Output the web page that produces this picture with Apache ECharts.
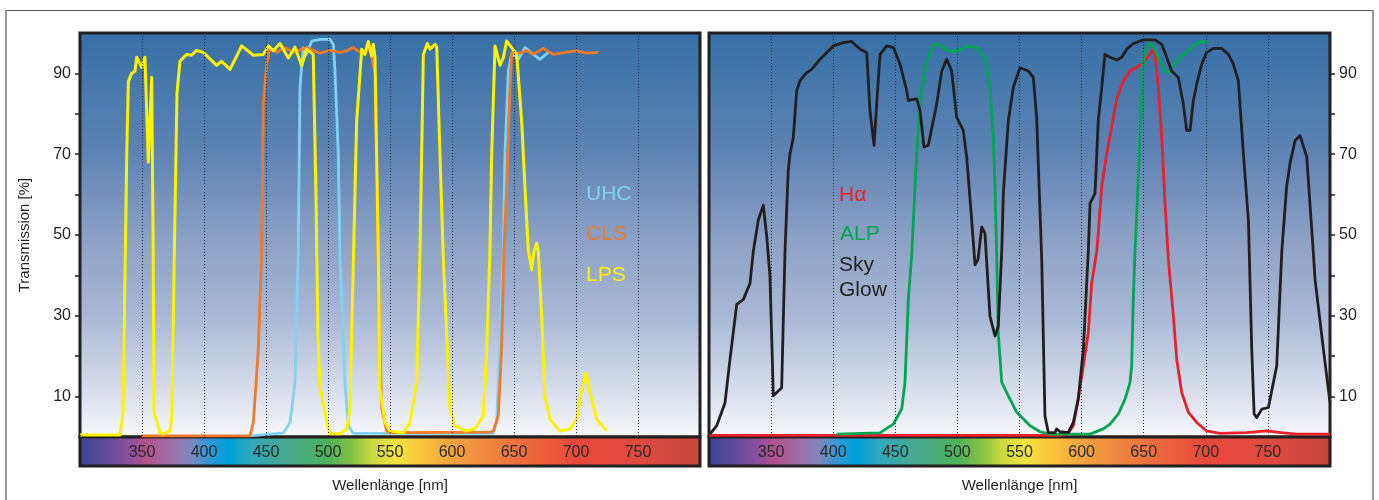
<!DOCTYPE html>
<html>
<head>
<meta charset="utf-8">
<script src="https://cdn.jsdelivr.net/npm/echarts@6/dist/echarts.min.js"></script>
<style>
html,body{margin:0;padding:0;background:#fff;}
#c{width:1379px;height:500px;}
</style>
</head>
<body>
<div id="c"></div>
<script>
// ---------- data ----------
const xTickLabels = [350, 400, 450, 500, 550, 600, 650, 700, 750];
const yTickLabels = [10, 30, 50, 70, 90];
const yTicks = [10, 20, 30, 40, 50, 60, 70, 80, 90];

// left panel: [wavelength nm, transmission %]
const UHC = [[437.1,0.3],[464,1.0],[469.4,3.6],[473.4,13.5],[476,46],[477.4,86.5],[480,96.4],[482.3,94.5],[486.9,98],[493.5,98.4],[501.6,98.4],[504.3,97.2],[505.6,90.6],[508.3,70],[509.7,44],[513.7,13.5],[516.4,2.8],[520.4,0.9],[633.3,0.9],[636,3.6],[641.4,46],[642.7,70],[645.4,90.6],[648.1,95],[653.5,93.5],[658.9,96.4],[665.6,94.7],[671,93.5],[677.7,95.2]];

const CLS = [[349.8,0.3],[437.1,0.3],[439.8,3.6],[443.8,21.7],[446.5,46],[447.8,82.4],[450.6,92.3],[453.2,96.4],[458.6,95.2],[465.3,96.4],[472,95.2],[482.8,96.4],[493.5,95],[501.6,95.7],[509.7,95.2],[515.1,95.6],[520.4,96.4],[525.8,95.2],[533.9,96],[537.9,90],[540.6,40],[543.3,7],[547.3,1.5],[550,1.1],[630.6,1.2],[633.3,1.5],[637.3,5.2],[640,21.7],[641.9,46.3],[644.1,62],[646.8,86.5],[648.1,95.2],[654.8,95],[660.2,95.7],[665.6,94.7],[673.6,96.2],[681.7,94.7],[695.2,95.4],[700.6,95.6],[708.6,95],[718,95.2]];

const LPS = [[300,0.5],[332.3,0.5],[334.7,6],[336.3,40],[337.7,70],[339,88],[341.6,90],[344.4,90.6],[345.7,94],[349.7,91.5],[352.4,94],[355.1,68],[357.8,89],[358.9,50],[359.7,6],[364.5,1.2],[366.9,0.7],[372.6,1.5],[374,5],[375.8,40],[378.2,85],[380.6,93],[386,94.7],[390,94.5],[394,95.7],[399.4,95.2],[410.2,92],[414.2,93],[421,91],[430.4,96.8],[439.8,94.5],[447.8,94.7],[451.9,96.8],[455.9,95.6],[461.3,97.4],[468,93.8],[473.4,96.5],[478.8,91.9],[482.8,96],[488.1,94.7],[490.3,60],[491.9,25],[493.5,12.6],[500.2,2],[501.6,0.8],[509.7,0.8],[515.1,2],[517.7,7],[520.2,40],[523.1,78],[527.2,96],[529.8,94.7],[532.5,97.9],[535.2,94.3],[536.5,97.2],[537.9,94],[540.6,44],[541.9,11.8],[546,3.6],[550,1.5],[560.7,1],[566.1,3.6],[571.5,13.5],[574.2,46],[576.9,94.7],[580.1,97.4],[582.3,96],[586.3,97.2],[587.7,96.5],[590.3,70],[593,44],[598.4,7],[602.4,2.8],[610.5,1.5],[618.5,2],[625.2,5.2],[628,21.7],[630.6,46],[632,70],[634.7,96.8],[638.7,92],[641.4,93.9],[644.1,98],[648.1,96.4],[652.2,94.7],[656.2,78],[660.2,53.7],[661.5,46.3],[664.3,41.4],[666.1,46],[668.3,48],[669.6,46],[672.3,30],[675,10],[679,4.4],[687.1,1.5],[695.2,2],[700.6,4.4],[704.6,11.8],[708.1,15.9],[711.3,11],[716.7,4.4],[724.8,1.5]];

// right panel
const HALPHA = [[300,0.4],[582.6,0.4],[589,0.8],[593.3,2.8],[597.3,9.4],[601.4,17.6],[605.4,25.8],[608.1,38],[612.2,46],[613.4,50.4],[616.2,62],[620.2,70],[624.2,76.7],[628.3,83.7],[633.6,88.2],[639,90.6],[644.4,91.5],[649.7,92.7],[653.8,94.3],[657.3,95.7],[659.1,94.7],[661.8,86.5],[664.5,74.2],[667.2,57.8],[669.9,43.8],[673.9,29.9],[676.6,19.2],[680.6,11],[686,6.1],[692.7,3.6],[700.7,1.5],[711.4,0.9],[732.9,1.1],[749,1.5],[762.4,1],[773.2,0.7],[800,0.7]];

const ALP = [[402.8,0.7],[437.7,1],[448.4,3.2],[455.2,7],[457.8,13.5],[460.5,34],[463.2,45],[467.2,70],[469.9,82.4],[471.3,86.5],[475.3,93.1],[480.6,97],[484.6,97.2],[492.7,95.6],[500.7,95.6],[507.5,96.8],[515.5,96.4],[522.2,93.9],[526.2,86.5],[528.9,74.2],[530.3,62],[531.6,45.5],[532.9,25.8],[535.7,13.5],[539.7,11],[547.8,6.1],[558.5,2.8],[566.5,1.3],[574.6,0.7],[606.8,0.7],[617.5,2],[622.9,3.2],[629.6,5.7],[635,9.4],[639,13.5],[640.3,17.6],[641.6,34],[643,46],[644.4,55],[647,74.2],[649.7,93.1],[652.5,96.4],[655.1,97.6],[657.8,96.8],[661.8,93.9],[665.9,91],[669.9,90.2],[673.9,91.9],[679.3,93.9],[684.6,95.2],[690,96.8],[695.4,97.9],[702.1,97.6]];

const SKYGLOW = [[300.8,0.7],[306.2,2.8],[312.9,8.5],[316.9,19.2],[322.3,32.8],[327.6,34],[333,38],[335.7,46],[339.7,53.7],[343.7,57.4],[346.5,49.6],[349.1,39.7],[351.8,10.2],[353.1,9.8],[358.5,12.2],[361.2,46],[363.8,66],[365.2,70],[367.9,74.2],[370.6,85.7],[373.3,88.2],[378.7,90.2],[382.7,91],[389.4,93.5],[400.1,96.8],[408.1,97.6],[414.9,97.9],[421.6,96],[427,95.2],[429.6,80.8],[432.9,72.2],[435,82.4],[437.7,94.7],[443.1,96.8],[448.4,96.4],[453.8,92.3],[459.2,85.7],[460.5,83.3],[467.2,83.7],[469.9,80.8],[473.1,71.8],[476.6,72.2],[483.3,82.4],[487.4,90.6],[491.4,93.5],[495.4,90.6],[499.4,79.2],[504.7,75.9],[507.5,69.3],[511.5,53.7],[514.2,42.6],[516.6,44],[519.6,52],[522.2,50.4],[526.2,29.9],[530.3,25],[532.9,27.4],[535.7,46],[537,60.3],[541,78.3],[545,86.5],[550.4,91.4],[557.1,90.6],[561.1,89],[563.8,79.2],[567.9,43.8],[570.5,5.2],[573.2,1.1],[578.6,1.1],[579.9,2],[582.6,1.3],[589.3,1.1],[593.3,3.6],[597.3,9.4],[601.4,21.7],[604.1,38],[605.4,46],[606.8,57.8],[610.8,60.3],[613.4,78.3],[616.2,86.5],[618.8,94.7],[622.9,94],[628.3,93.3],[632.3,94],[636.3,96],[641.6,97.4],[649.7,98.3],[659.1,98.3],[664.5,97.2],[668.5,94],[672.5,90.6],[677.9,89],[681.9,82.4],[684.6,75.9],[687.3,75.9],[690,83.3],[692.7,87.4],[696.7,92.3],[700.7,95.2],[706.1,96.2],[712.8,96.2],[718.2,94.7],[722.2,92.3],[726.2,88.2],[730.3,70],[734.3,53.7],[737,21.7],[738.9,5.7],[741,4.8],[745.1,6.9],[750.4,7.3],[757.1,17.6],[761.2,46],[765.1,62],[767.8,67.7],[771.9,73.4],[775.9,74.6],[781.3,69.3],[786.6,45.5],[788,38.9],[794.7,21.7],[800,8.5]];

// ---------- styling ----------
const FONT = '"Liberation Sans", Arial, Helvetica, sans-serif';
const INK = '#231f20';
const COL = {UHC:'#80d2f2', CLS:'#f07a28', LPS:'#fff200', HA:'#e8202a', ALP:'#00a651', SKY:'#231f20'};

const bg = () => new echarts.graphic.LinearGradient(0, 0, 0, 1, [
  {offset:0, color:'#3570a6'},
  {offset:0.3, color:'#5f83b4'},
  {offset:0.5, color:'#8aa0c4'},
  {offset:0.7, color:'#a9b8d5'},
  {offset:0.9, color:'#dce1ed'},
  {offset:1, color:'#f8f9fc'}
]);
const spec = () => new echarts.graphic.LinearGradient(0, 0, 1, 0, [
  {offset:0.00, color:'#3b4296'},
  {offset:0.04, color:'#5b4c9a'},
  {offset:0.08, color:'#8a4f9c'},
  {offset:0.11, color:'#b2538f'},
  {offset:0.15, color:'#9a72a8'},
  {offset:0.18, color:'#7f86bd'},
  {offset:0.21, color:'#2f98d4'},
  {offset:0.24, color:'#00a0da'},
  {offset:0.28, color:'#32a9b8'},
  {offset:0.34, color:'#47a98a'},
  {offset:0.40, color:'#4db35a'},
  {offset:0.44, color:'#85c243'},
  {offset:0.47, color:'#c7d940'},
  {offset:0.51, color:'#f4e440'},
  {offset:0.55, color:'#f8c63c'},
  {offset:0.60, color:'#f2a33e'},
  {offset:0.66, color:'#ef8640'},
  {offset:0.72, color:'#ec6a3d'},
  {offset:0.80, color:'#e6483a'},
  {offset:0.90, color:'#df4a3e'},
  {offset:1.00, color:'#c4463f'}
]);

const P = [{left:80, width:620}, {left:709, width:621}];
const TOP = 33, H = 404;

function xAxis(i){
  return {
    gridIndex:i, type:'value', min:300, max:800, interval:50, z:10,
    axisLine:{show:false}, axisTick:{show:false},
    splitLine:{show:true, lineStyle:{color:'#2a2a2a', type:[1,2], width:1}},
    axisLabel:{formatter:v => xTickLabels.includes(v) ? String(v) : '', color:'#2a2a2a', fontSize:16, margin:8, fontFamily:FONT},
    name:'Wellenlänge [nm]', nameLocation:'middle', nameGap:41,
    nameTextStyle:{color:INK, fontSize:15, fontFamily:FONT}
  };
}
function yAxis(i, pos){
  const a = {
    gridIndex:i, type:'value', min:0, max:100, interval:10, position:pos,
    axisLine:{show:false},
    axisTick:{show:true, length:5, customValues:yTicks, lineStyle:{color:INK, width:1.5}},
    axisLabel:{customValues:yTickLabels, formatter:v => yTickLabels.includes(v) ? String(v) : '', color:INK, fontSize:16, margin:9, fontFamily:FONT},
    splitLine:{show:false}
  };
  if (pos === 'left') {
    a.name = 'Transmission [%]'; a.nameLocation = 'middle'; a.nameGap = 48; a.nameRotate = 90;
    a.nameTextStyle = {color:INK, fontSize:15, fontFamily:FONT};
  }
  return a;
}
function line(name, data, color, gi, w){
  return {name, type:'line', xAxisIndex:gi, yAxisIndex:gi, data, showSymbol:false, symbol:'none',
    lineStyle:{color, width:w||2.8, join:'round'}, z:3, silent:true, animation:false};
}

const LEG = '21px ' + FONT;
const chart = echarts.init(document.getElementById('c'));
chart.setOption({
  animation:false,
  backgroundColor:'#ffffff',
  grid: P.map(p => ({left:p.left, top:TOP, width:p.width, height:H, show:true,
    backgroundColor:bg(), borderColor:INK, borderWidth:3})),
  xAxis:[xAxis(0), xAxis(1)],
  yAxis:[yAxis(0,'left'), yAxis(1,'right')],
  series:[
    line('UHC', UHC, COL.UHC, 0),
    line('CLS', CLS, COL.CLS, 0),
    line('LPS', LPS, COL.LPS, 0, 3),
    line('Hα', HALPHA, COL.HA, 1),
    line('ALP', ALP, COL.ALP, 1),
    line('Sky Glow', SKYGLOW, COL.SKY, 1)
  ],
  graphic:[
    // outer frame
    {type:'line', shape:{x1:5, y1:10.5, x2:1373, y2:10.5}, style:{stroke:'#555', lineWidth:1}, silent:true},
    {type:'line', shape:{x1:6, y1:10, x2:6, y2:500}, style:{stroke:'#9a9a9a', lineWidth:2}, silent:true},
    {type:'line', shape:{x1:1373, y1:10, x2:1373, y2:500}, style:{stroke:'#9a9a9a', lineWidth:2}, silent:true},
    // spectrum bars
    {type:'rect', z:1, shape:{x:P[0].left, y:TOP+H, width:P[0].width, height:29}, style:{fill:spec(), stroke:INK, lineWidth:3}, silent:true},
    {type:'rect', z:1, shape:{x:P[1].left, y:TOP+H, width:P[1].width, height:29}, style:{fill:spec(), stroke:INK, lineWidth:3}, silent:true},
    // legends
    {type:'text', z:20, x:586, y:194, style:{text:'UHC', fill:COL.UHC, font:LEG, verticalAlign:'middle'}},
    {type:'text', z:20, x:586, y:234, style:{text:'CLS', fill:COL.CLS, font:LEG, verticalAlign:'middle'}},
    {type:'text', z:20, x:586, y:275, style:{text:'LPS', fill:COL.LPS, font:LEG, verticalAlign:'middle'}},
    {type:'text', z:20, x:839, y:195, style:{text:'Hα', fill:COL.HA, font:LEG, verticalAlign:'middle'}},
    {type:'text', z:20, x:840, y:234, style:{text:'ALP', fill:COL.ALP, font:LEG, verticalAlign:'middle'}},
    {type:'text', z:20, x:839, y:278, style:{text:'Sky\nGlow', fill:COL.SKY, font:LEG, lineHeight:25, verticalAlign:'middle'}}
  ]
});
</script>
</body>
</html>
